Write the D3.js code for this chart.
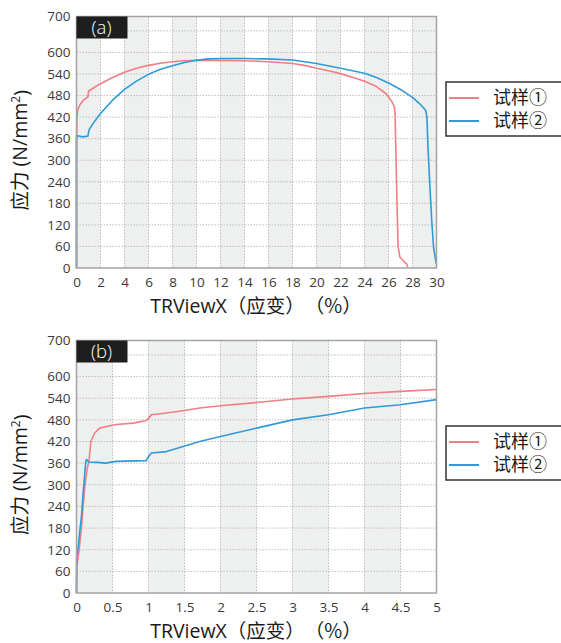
<!DOCTYPE html>
<html>
<head>
<meta charset="utf-8">
<script src="https://cdn.jsdelivr.net/npm/d3@7"></script>
<style>
  html, body { margin: 0; padding: 0; background: #fff; }
  svg { display: block; }
  text { font-family: "Open Sans", "Noto Sans CJK SC", sans-serif; text-spacing-trim: space-all; }
</style>
</head>
<body>
<svg id="chart" width="561" height="643"></svg>
<script>
// Stress–strain curves, (a) full test and (b) first 5 % of strain
const seriesNames = ["试样①", "试样②"];
const seriesColors = ["#f27d86", "#2e9ad8"];

// Panel (a): full range
const strainA1 = [0, 0, 0.05, 0.1, 0.3, 0.6, 0.95, 1.0, 1.5, 2, 3, 4, 5, 6, 7, 8, 9, 10, 12, 14, 16, 18, 19, 20, 21, 22, 23, 24, 25, 25.8, 26.3, 26.5, 26.55, 26.7, 26.8, 26.95, 27.3, 27.5, 27.6];
const stressA1 = [0, 360, 420, 440, 455, 468, 476, 492, 503, 513, 530, 545, 556, 564, 570, 574, 577, 578, 578, 577, 574, 569, 564, 556, 549, 541, 531, 520, 505, 485, 462, 448, 425, 190, 60, 30, 18, 12, 3];
const strainA2 = [0, 0, 0.1, 0.5, 0.95, 1.05, 1.5, 2, 3, 4, 5, 6, 7, 8, 9, 10, 11, 12, 14, 16, 18, 20, 22, 24, 25, 26, 27, 28, 28.6, 29.1, 29.2, 29.3, 29.45, 29.6, 29.75, 29.9, 30];
const stressA2 = [0, 360, 368, 365, 367, 385, 408, 430, 467, 497, 520, 539, 553, 563, 572, 578, 582, 583, 583, 582, 579, 569, 556, 542, 530, 515, 497, 475, 457, 439, 420, 330, 226, 133, 59, 27, 10];

// Panel (b): 0–5 % strain
const strainB1 = [0, 0.005, 0.03, 0.046, 0.069, 0.092, 0.115, 0.147, 0.175, 0.2, 0.25, 0.32, 0.45, 0.55, 0.79, 0.97, 1.0, 1.04, 1.25, 1.5, 1.71, 2, 2.5, 3, 3.5, 4, 4.5, 5];
const stressB1 = [0, 73, 110, 138, 184, 240, 295, 342, 369, 420, 443, 457, 463, 467, 471, 478, 484, 494, 499, 506, 513, 519, 528, 538, 545, 553, 559, 564];
const strainB2 = [0, 0.002, 0.023, 0.046, 0.069, 0.092, 0.115, 0.13, 0.14, 0.17, 0.3, 0.4, 0.55, 0.97, 1.0, 1.04, 1.25, 1.48, 1.71, 2, 2.5, 3, 3.5, 4, 4.5, 5];
const stressB2 = [0, 100, 128, 172, 212, 277, 332, 365, 370, 363, 362, 360, 365, 367, 378, 388, 392, 406, 420, 434, 457, 480, 494, 513, 522, 536];

// Axis ticks
const yTicks = [0, 60, 120, 180, 240, 300, 360, 420, 480, 540, 600, 700];
const yGrid = [60, 120, 180, 240, 300, 360, 420, 480, 540, 600, 660];
const xTicksA = [0, 2, 4, 6, 8, 10, 12, 14, 16, 18, 20, 22, 24, 26, 28, 30];
const xTicksB = [0, 0.5, 1, 1.5, 2, 2.5, 3, 3.5, 4, 4.5, 5];

const yTitle = "应力 (N/mm";
const xTitleLatin = "TRViewX";
const xTitleCjk = "（应变）（%）";

const svg = d3.select("#chart");

function panel(opt) {
  const { top, bottom, left, right, xMax, xTicks, band, label, series, legendTop } = opt;
  const x = d3.scaleLinear().domain([0, xMax]).range([left, right]);
  const y = d3.scaleLinear().domain([0, 700]).range([bottom, top]);
  const g = svg.append("g");

  // alternating shaded bands
  const bands = d3.range(0, xMax, band * 2);
  g.selectAll("rect.band").data(bands).join("rect")
    .attr("x", d => x(d)).attr("y", top)
    .attr("width", d => x(d + band) - x(d)).attr("height", bottom - top)
    .attr("fill", "#eef0ef");

  // dotted grid
  g.selectAll("line.hg").data(yGrid).join("line")
    .attr("x1", left).attr("x2", right)
    .attr("y1", d => y(d)).attr("y2", d => y(d))
    .attr("stroke", "#bdbdbd").attr("stroke-width", 1).attr("stroke-dasharray", "1.5,1.5");
  g.selectAll("line.vg").data(xTicks.slice(1, -1)).join("line")
    .attr("x1", d => x(d)).attr("x2", d => x(d))
    .attr("y1", top).attr("y2", bottom)
    .attr("stroke", "#bdbdbd").attr("stroke-width", 1).attr("stroke-dasharray", "1.5,1.5");

  // curves
  const line = d3.line().x(d => x(d[0])).y(d => y(d[1]));
  series.forEach((s, i) => {
    const pts = s[0].map((v, k) => [v, s[1][k]]);
    g.append("path").datum(pts)
      .attr("d", line).attr("fill", "none")
      .attr("stroke", seriesColors[i]).attr("stroke-width", 1.6)
      .attr("stroke-linejoin", "round");
  });

  // frame
  g.append("rect").attr("x", left).attr("y", top)
    .attr("width", right - left).attr("height", bottom - top)
    .attr("fill", "none").attr("stroke", "#a3a3a3").attr("stroke-width", 1.5);

  // axes
  const yAxis = d3.axisLeft(y).tickValues(yTicks).tickSize(0).tickPadding(6);
  const ya = g.append("g").attr("transform", `translate(${left},0)`).call(yAxis);
  const xAxis = d3.axisBottom(x).tickValues(xTicks).tickSize(0).tickPadding(9)
    .tickFormat(d3.format("~g"));
  const xa = g.append("g").attr("transform", `translate(0,${bottom})`).call(xAxis);
  [ya, xa].forEach(a => {
    a.select(".domain").remove();
    a.selectAll("text").attr("font-size", 13.5).attr("fill", "#3a3a3a")
      .attr("font-family", "'Open Sans', sans-serif");
  });

  // panel tag
  g.append("rect").attr("x", left).attr("y", top).attr("width", 51).attr("height", 22).attr("fill", "#1e1e1e");
  g.append("text").attr("x", left + 25).attr("y", top + 11).attr("dy", "0.35em")
    .attr("text-anchor", "middle").attr("fill", "#fff").attr("font-size", 18.5).attr("font-weight", 300)
    .text(label);

  // axis titles
  const yt = g.append("text")
    .attr("transform", `translate(20,${(top + bottom) / 2 + 8}) rotate(-90)`)
    .attr("text-anchor", "middle").attr("dy", "0.35em")
    .attr("font-size", 19.5).attr("fill", "#1a1a1a");
  yt.append("tspan").text(yTitle);
  yt.append("tspan").attr("font-size", 12).attr("dy", "-0.6em").text("2");
  yt.append("tspan").attr("dy", "0.45em").text(")");

  const xt = g.append("text").attr("x", 256).attr("y", bottom + 38).attr("dy", "0.35em")
    .attr("text-anchor", "middle").attr("font-size", 19.5).attr("fill", "#1a1a1a");
  xt.append("tspan").attr("font-family", "'Open Sans', sans-serif").text(xTitleLatin);
  xt.append("tspan").attr("font-family", "'Noto Sans CJK SC', sans-serif").text(xTitleCjk);

  // legend
  const lg = g.append("g");
  lg.append("rect").attr("x", 446).attr("y", legendTop).attr("width", 120).attr("height", 54)
    .attr("fill", "#fff").attr("stroke", "#333").attr("stroke-width", 1.5);
  seriesNames.forEach((n, i) => {
    const yy = legendTop + 16 + i * 23;
    lg.append("line").attr("x1", 449).attr("x2", 479).attr("y1", yy).attr("y2", yy)
      .attr("stroke", seriesColors[i]).attr("stroke-width", 2);
    lg.append("text").attr("x", 493).attr("y", yy).attr("dy", "0.35em")
      .attr("font-size", 18).attr("fill", "#1a1a1a")
      .attr("font-family", "'Noto Sans CJK SC', sans-serif").text(n);
  });
}

panel({ top: 16.5, bottom: 268, left: 76.5, right: 436.5, xMax: 30, xTicks: xTicksA, band: 2,
  label: "(a)", series: [[strainA1, stressA1], [strainA2, stressA2]], legendTop: 82 });
panel({ top: 340.5, bottom: 593, left: 76.5, right: 436.5, xMax: 5, xTicks: xTicksB, band: 0.5,
  label: "(b)", series: [[strainB1, stressB1], [strainB2, stressB2]], legendTop: 426 });
</script>
</body>
</html>
